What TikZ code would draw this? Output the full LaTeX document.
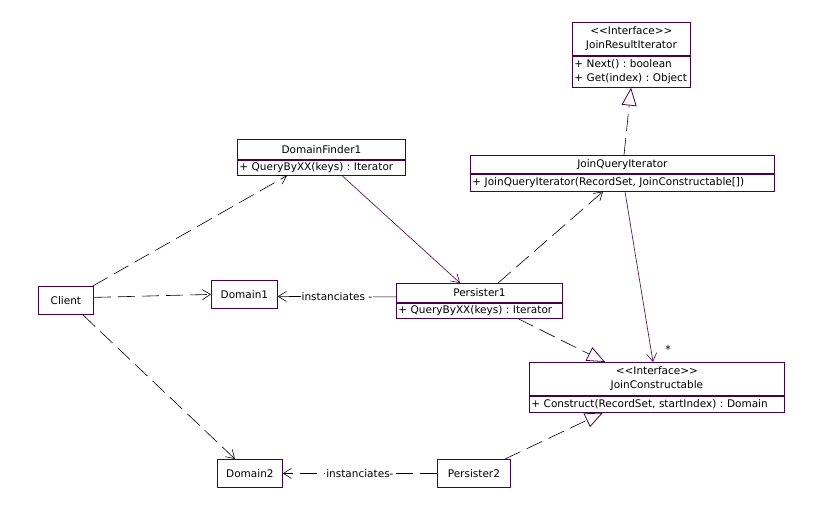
\documentclass[tikz,border=0pt]{standalone}
\usepackage{fontspec}
\setmainfont{DejaVu Sans}[Ligatures=NoCommon]
\usetikzlibrary{arrows.meta}
\definecolor{umlpurple}{RGB}{72,0,72}
\newcommand{\stereo}{{<}{<}Interface{>}{>}}
\newcommand{\umlline}[1]{\mbox{#1}}
\begin{document}
\frenchspacing
\begin{tikzpicture}[x=1pt,y=-1pt,
  uml/.style={draw=umlpurple, line width=0.8pt, inner sep=0pt, anchor=north west, fill=white,
    font=\fontsize{10.5}{14}\selectfont\frenchspacing},
  clsbody/.style={uml, inner xsep=2pt, align=left},
  dep/.style={draw=black, line width=0.6pt, dash pattern=on 17pt off 7pt,
    -{Straight Barb[length=8pt,width=10pt]}},
  assoc/.style={draw=umlpurple, line width=0.6pt, -{Straight Barb[length=8pt,width=10pt]}},
  real/.style={draw=black, line width=0.6pt, dash pattern=on 17pt off 7pt,
    -{Triangle[open, length=18pt, width=15pt, color=umlpurple, fill=white, line width=0.8pt]}},
  lbl/.style={fill=white, inner sep=1pt, font=\fontsize{10.5}{14}\selectfont}
]
\useasboundingbox (0,0) rectangle (830,511);

% classes
\node[uml, minimum width=118, minimum height=33, align=center] (jri) at (572,22) {\stereo\\JoinResultIterator};
\node[clsbody, text width=114, minimum height=31] (jrib) at (jri.south west) {\umlline{+ Next() : boolean}\\\umlline{+ Get(index) : Object}};

\node[uml, minimum width=168, minimum height=20] (df1) at (237,139) {DomainFinder1};
\node[clsbody, text width=164, minimum height=15] (df1b) at (df1.south west) {\umlline{+ QueryByXX(keys) : Iterator}};

\node[uml, minimum width=304, minimum height=18] (jqi) at (470,155) {JoinQueryIterator};
\node[clsbody, text width=300, minimum height=17] (jqib) at (jqi.south west) {\umlline{+ JoinQueryIterator(RecordSet, JoinConstructable[])}};

\node[uml, minimum width=166, minimum height=19] (p1) at (396,283) {Persister1};
\node[clsbody, text width=162, minimum height=15] (p1b) at (p1.south west) {\umlline{+ QueryByXX(keys) : Iterator}};

\node[uml, minimum width=255, minimum height=33, align=center] (jc) at (529,362) {\stereo\\JoinConstructable};
\node[clsbody, text width=251, minimum height=16] (jcb) at (jc.south west) {\umlline{+ Construct(RecordSet, startIndex) : Domain}};

\node[uml, minimum width=55, minimum height=28] (client) at (38,286) {Client};
\node[uml, minimum width=66, minimum height=28] (d1) at (211,280) {Domain1};
\node[uml, minimum width=65, minimum height=28] (d2) at (217,459) {Domain2};
\node[uml, minimum width=73, minimum height=28] (p2) at (437,459) {Persister2};

% connectors
\draw[dep] ([xshift=-1pt]client.north east) -- ([xshift=50pt]df1b.south west);
\draw[dep] ([yshift=3pt]client.east) -- (d1.west);
\draw[dep] ([xshift=-11pt]client.south east) -- ([xshift=18pt]d2.north west);
\draw[assoc] ([xshift=105pt]df1b.south west) -- ([xshift=64pt]p1.north west);
\draw[draw=black, line width=0.6pt, -{Straight Barb[length=8pt,width=10pt]}]
  ([yshift=-4pt]p1.west) -- node[lbl] (lab1) {instanciates -} ([yshift=-2pt]d1.east);
\draw[dep] ([xshift=102pt]p1.north west) -- ([xshift=133pt]jqib.south west);
\draw[real] ([xshift=122pt]p1b.south west) -- ([xshift=76pt]jc.north west);
\draw[assoc] ([xshift=155pt]jqib.south west) -- ([xshift=124pt]jc.north west);
\node[font=\fontsize{11}{14}\selectfont, inner sep=0pt] (mult) at (668,349) {*};
\draw[real] ([xshift=154pt]jqi.north west) -- ([xshift=59pt]jrib.south west);
\draw[real] ([xshift=68pt]p2.north west) -- ([xshift=74pt]jcb.south west);
\draw[dep] (p2.west) -- node[lbl] (lab2) {instanciates-} (d2.east);
\end{tikzpicture}
\end{document}
